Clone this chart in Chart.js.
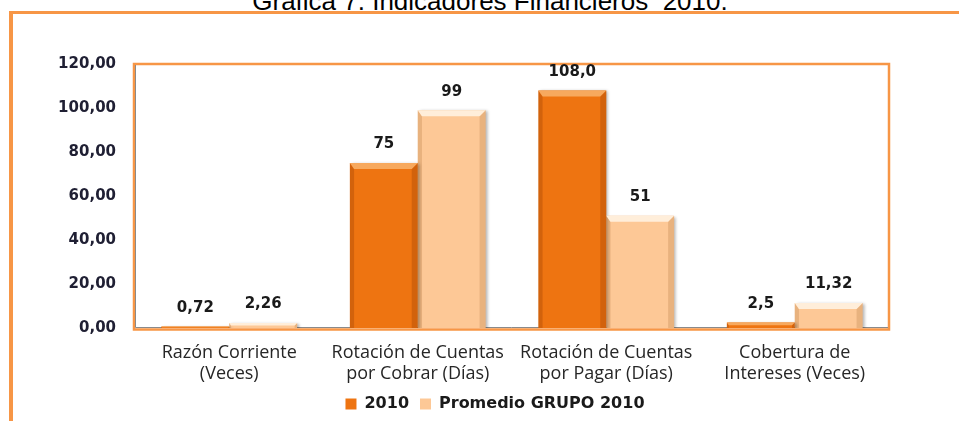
<!DOCTYPE html>
<html>
<head>
<meta charset="utf-8">
<script src="https://cdn.jsdelivr.net/npm/chart.js@4.4.1/dist/chart.umd.min.js"></script>
<style>
  html, body { margin: 0; padding: 0; background: #fff; overflow: hidden; }
  #wrap { position: relative; width: 959px; height: 421px; overflow: hidden; }
  #titulo {
    position: absolute; left: 0; width: 980px; top: -12px;
    text-align: center; font: 26px "Liberation Sans", Arial, sans-serif;
    line-height: 26px; color: #000; white-space: nowrap;
  }
  #marcoTop { position: absolute; left: 9px; top: 11px; width: 960px; height: 3px; background: #F79646; }
  #marcoIzq { position: absolute; left: 9px; top: 11px; width: 4px; height: 420px; background: #F79646; }
  canvas { position: absolute; left: 0; top: 0; }
</style>
</head>
<body>
<div id="wrap">
  <div id="titulo">Gráfica 7. Indicadores Financieros&nbsp; 2010.</div>
  <div id="marcoTop"></div>
  <div id="marcoIzq"></div>
  <canvas id="myChart" width="959" height="421"></canvas>
</div>
<script>
// datos
const categorias = [
  ["Razón Corriente", "(Veces)"],
  ["Rotación de Cuentas", "por Cobrar (Días)"],
  ["Rotación de Cuentas", "por Pagar (Días)"],
  ["Cobertura de", "Intereses (Veces)"]
];
const valores2010 = [0.72, 75, 108, 2.5];
const valoresGrupo = [2.26, 99, 51, 11.32];
const etiquetas2010 = ["0,72", "75", "108,0", "2,5"];
const etiquetasGrupo = ["2,26", "99", "51", "11,32"];
const ejeMin = 0;
const ejeMax = 120;
const ejePaso = 20;

const naranja = '#EE7411';
const durazno = '#FDC896';

function formatoTick(valor) {
  return valor.toFixed(2).replace('.', ',');
}

// marco naranja del area de grafica + ejes grises + sombra de barras
const marcoPlugin = {
  id: 'marco',
  beforeDatasetsDraw(chart) {
    const {ctx, chartArea} = chart;
    ctx.save();
    ctx.strokeStyle = '#F79646';
    ctx.lineWidth = 2.5;
    ctx.strokeRect(chartArea.left - 1, chartArea.top, chartArea.right - chartArea.left + 1, chartArea.bottom - chartArea.top + 1.5);
    ctx.strokeStyle = '#8a8a8a';
    ctx.lineWidth = 1;
    ctx.beginPath();
    ctx.moveTo(chartArea.left + 0.5, chartArea.top + 1);
    ctx.lineTo(chartArea.left + 0.5, chartArea.bottom - 0.5);
    ctx.lineTo(chartArea.right - 1, chartArea.bottom - 0.5);
    ctx.stroke();
    ctx.restore();
    ctx.save();
    ctx.shadowColor = 'rgba(0,0,0,0.3)';
    ctx.shadowOffsetX = 2;
    ctx.shadowOffsetY = 1;
    ctx.shadowBlur = 3;
  },
  afterDatasetsDraw(chart) {
    const {ctx} = chart;
    ctx.restore();
    // bisel de las barras
    chart.data.datasets.forEach((ds, i) => {
      const meta = chart.getDatasetMeta(i);
      const claro = i === 0 ? '#F7A95E' : '#FFEEDA';
      const lado = i === 0 ? 'rgba(140,55,0,0.28)' : 'rgba(160,100,40,0.22)';
      meta.data.forEach((bar) => {
        const x0 = bar.x - bar.width / 2;
        const x1 = bar.x + bar.width / 2;
        const y0 = bar.y;
        const yb = bar.base;
        const b = Math.min(6, (yb - y0) / 2);
        if (b <= 0) return;
        ctx.save();
        ctx.fillStyle = lado;
        ctx.beginPath();
        ctx.moveTo(x1, y0); ctx.lineTo(x1, yb); ctx.lineTo(x1 - b, yb); ctx.lineTo(x1 - b, y0 + b);
        ctx.closePath(); ctx.fill();
        ctx.beginPath();
        ctx.moveTo(x0, y0); ctx.lineTo(x0 + b * 0.7, y0 + b); ctx.lineTo(x0 + b * 0.7, yb); ctx.lineTo(x0, yb);
        ctx.closePath(); ctx.fill();
        ctx.fillStyle = claro;
        ctx.beginPath();
        ctx.moveTo(x0, y0); ctx.lineTo(x1, y0); ctx.lineTo(x1 - b, y0 + b); ctx.lineTo(x0 + b * 0.7, y0 + b);
        ctx.closePath(); ctx.fill();
        ctx.restore();
      });
    });
    // etiquetas de valores
    const textos = [etiquetas2010, etiquetasGrupo];
    ctx.save();
    ctx.font = 'bold 15px "DejaVu Sans"';
    ctx.fillStyle = '#1a1a1a';
    ctx.textAlign = 'center';
    ctx.textBaseline = 'bottom';
    chart.data.datasets.forEach((ds, i) => {
      chart.getDatasetMeta(i).data.forEach((bar, j) => {
        ctx.fillText(textos[i][j], bar.x, bar.y - 11);
      });
    });
    ctx.restore();
  }
};

const data = {
  labels: categorias,
  datasets: [
    {
      label: '2010',
      data: valores2010,
      yAxisID: 'y',
      backgroundColor: naranja,
      borderColor: '#C95E0A',
      borderWidth: 0
    },
    {
      label: 'Promedio GRUPO 2010',
      data: valoresGrupo,
      yAxisID: 'y',
      backgroundColor: durazno,
      borderColor: '#D9A878',
      borderWidth: 0
    }
  ]
};

const config = {
  type: 'bar',
  data,
  options: {
    responsive: false,
    animation: false,
    layout: { padding: { left: 35, right: 4, top: 64, bottom: -1 } },
    datasets: {
      bar: { barPercentage: 1.0, categoryPercentage: 0.72 }
    },
    plugins: {
      legend: {
        position: 'bottom',
        labels: {
          boxWidth: 11,
          boxHeight: 11,
          padding: 11,
          color: '#1a1a1a',
          font: { family: '"DejaVu Sans"', size: 16, weight: 'bold' }
        }
      },
      tooltip: { enabled: false }
    },
    scales: {
      x: {
        grid: { display: false, drawTicks: false },
        border: { display: false },
        ticks: {
          padding: 14,
          color: '#262626',
          maxRotation: 0,
          autoSkip: false,
          font: { family: '"Open Sans"', size: 18, lineHeight: 1.167 }
        },
        afterFit(scale) { scale.height = 57; }
      },
      y: {
        min: ejeMin,
        max: ejeMax,
        grid: { display: false, drawTicks: false },
        border: { display: false },
        ticks: {
          stepSize: ejePaso,
          padding: 19,
          color: '#1f1f33',
          font: { family: '"DejaVu Sans"', size: 15, weight: 'bold' },
          callback: (v) => formatoTick(v)
        },
        afterFit(scale) { scale.width = 100; }
      },
      // espacio vacio a la derecha del area de grafica
      yDer: {
        type: 'linear',
        position: 'right',
        grid: { display: false, drawTicks: false },
        border: { display: false },
        ticks: { display: false },
        afterFit(scale) { scale.width = 66; }
      }
    }
  },
  plugins: [marcoPlugin]
};

new Chart(document.getElementById('myChart'), config);
</script>
</body>
</html>
